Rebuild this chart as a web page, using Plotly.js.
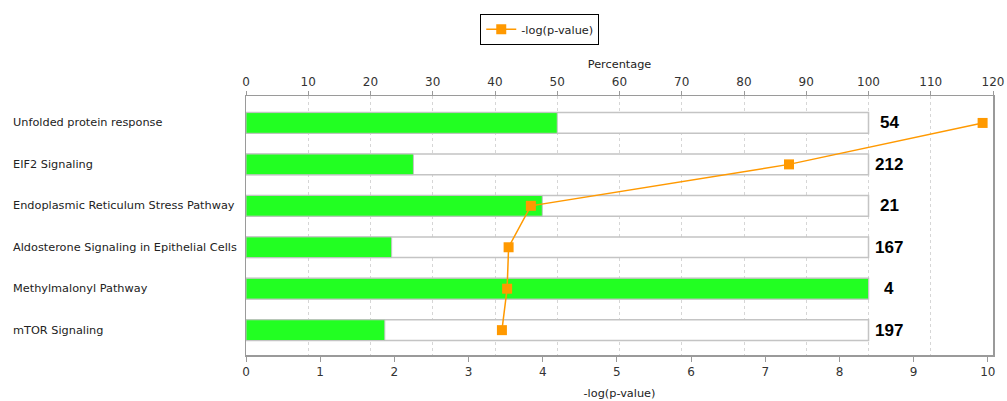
<!DOCTYPE html>
<html>
<head>
<meta charset="utf-8">
<script src="https://cdn.plot.ly/plotly-3.0.1.min.js"></script>
<style>
  html, body { margin: 0; padding: 0; background: #ffffff; }
  #chart { width: 1007px; height: 401px; }
</style>
</head>
<body>
<div id="chart"></div>
<script>
// Canonical pathways: share of pathway molecules found (percentage) and enrichment (-log p)
const pathways = [
  'Unfolded protein response',
  'EIF2 Signaling',
  'Endoplasmic Reticulum Stress Pathway',
  'Aldosterone Signaling in Epithelial Cells',
  'Methylmalonyl Pathway',
  'mTOR Signaling'
];
const percentFound = [50.0, 26.9, 47.6, 23.4, 100.0, 22.3];
const negLogP = [9.93, 7.32, 3.84, 3.54, 3.52, 3.45];
const pathwaySize = [54, 212, 21, 167, 4, 197];

const pctTicks = [0, 10, 20, 30, 40, 50, 60, 70, 80, 90, 100, 110, 120];
const pTicks = [0, 1, 2, 3, 4, 5, 6, 7, 8, 9, 10];

const labelFont = { family: 'DejaVu Sans, Verdana, sans-serif', size: 11.3, color: '#222' };
const tickFont = { family: 'DejaVu Sans, Verdana, sans-serif', size: 12, color: '#333' };
const axisGrey = '#9a9a9a';

const traces = [
  {
    type: 'bar', orientation: 'h',
    x: pathways.map(() => 100), y: pathways,
    xaxis: 'x', yaxis: 'y', width: 0.5,
    marker: { color: '#ffffff', line: { color: '#c4c4c4', width: 1.5 } },
    showlegend: false, hoverinfo: 'skip'
  },
  {
    type: 'bar', orientation: 'h',
    x: percentFound, y: pathways,
    xaxis: 'x', yaxis: 'y', width: 0.5,
    marker: { color: '#22ff22', line: { color: '#c4c4c4', width: 1 } },
    showlegend: false
  },
  {
    type: 'scatter', mode: 'lines+markers', name: '-log(p-value)',
    x: negLogP, y: pathways,
    xaxis: 'x2', yaxis: 'y',
    line: { color: '#ff9900', width: 1.5 },
    marker: { symbol: 'square', size: 10, color: '#ff9900' }
  }
];

const annotations = [];
pathways.forEach((name, i) => {
  annotations.push({
    xref: 'paper', yref: 'y', x: -0.3146, y: name,
    xanchor: 'left', yanchor: 'middle', showarrow: false,
    text: name, font: labelFont
  });
  annotations.push({
    xref: 'x', yref: 'y', x: 103.3, y: name,
    xanchor: 'center', yanchor: 'middle', showarrow: false,
    text: '<b>' + pathwaySize[i] + '</b>',
    font: { family: 'Liberation Sans, Arial, sans-serif', size: 17, color: '#000' }
  });
});

const layout = {
  width: 1007, height: 401,
  margin: { l: 246, r: 14, t: 96, b: 46, autoexpand: false },
  paper_bgcolor: '#ffffff', plot_bgcolor: '#ffffff',
  barmode: 'overlay',
  font: labelFont,
  showlegend: true,
  legend: {
    orientation: 'h', xref: 'container', yref: 'container',
    x: 0.536, xanchor: 'center', y: 0.966, yanchor: 'top',
    bordercolor: '#000', borderwidth: 1, bgcolor: '#fff',
    font: labelFont, itemwidth: 30
  },
  xaxis: {
    side: 'top', range: [0, 120], tickvals: pctTicks, automargin: false,
    showgrid: true, gridcolor: '#d6d6d6', griddash: '3px,3px', gridwidth: 1,
    zeroline: false, showline: true, linecolor: axisGrey, linewidth: 1.5,
    ticks: 'outside', ticklen: 4, tickcolor: axisGrey,
    tickfont: tickFont,
    title: { text: 'Percentage', font: labelFont, standoff: 3 }
  },
  xaxis2: {
    overlaying: 'x', side: 'bottom', anchor: 'y', range: [0, 10.07], tickvals: pTicks,
    automargin: false,
    showgrid: false, zeroline: false, showline: true, linecolor: axisGrey, linewidth: 1.5,
    ticks: 'outside', ticklen: 5, tickcolor: axisGrey,
    tickfont: tickFont,
    title: { text: '-log(p-value)', font: labelFont, standoff: 11 }
  },
  yaxis: {
    type: 'category', range: [5.6, -0.65], automargin: false,
    showticklabels: false, ticks: '', showgrid: false, zeroline: false,
    showline: true, mirror: true, linecolor: axisGrey, linewidth: 1.5
  },
  annotations: annotations
};

Plotly.newPlot('chart', traces, layout, { displayModeBar: false, staticPlot: true });
</script>
</body>
</html>
